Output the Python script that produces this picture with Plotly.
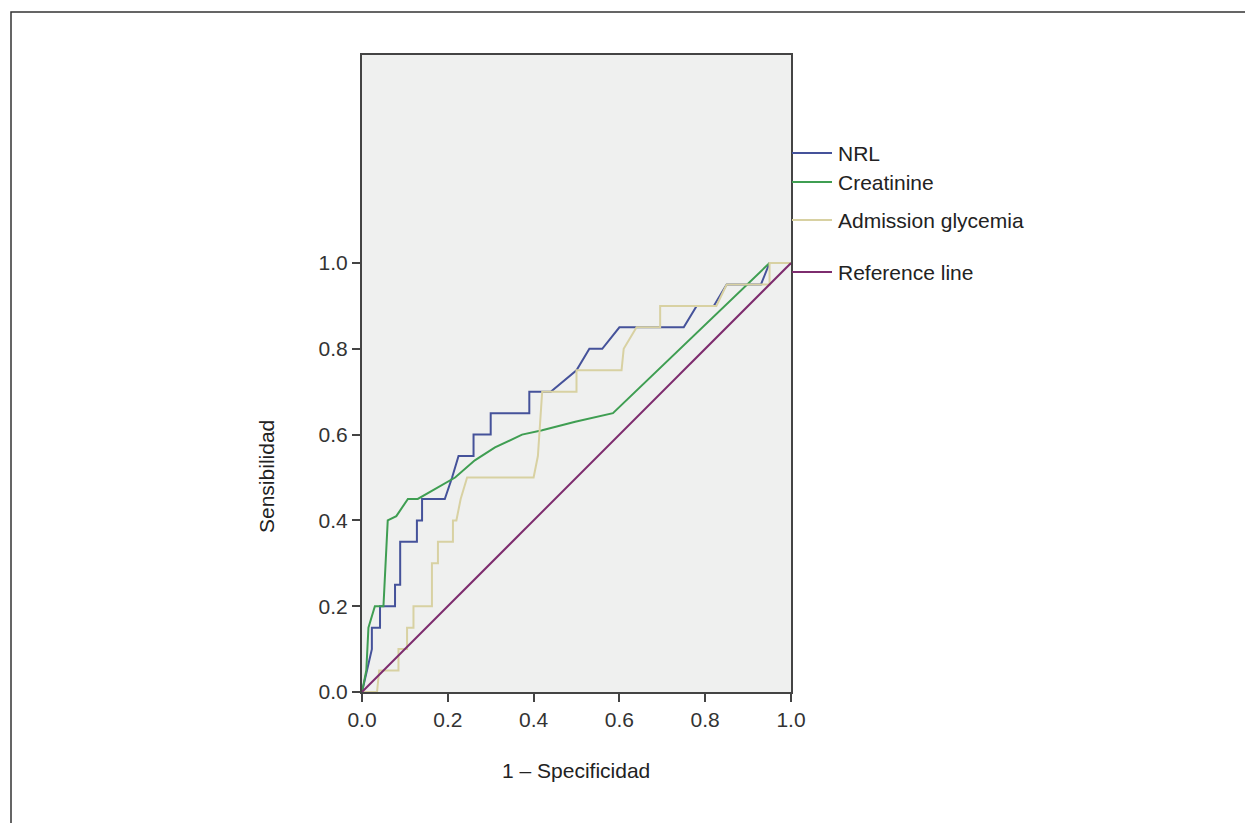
import plotly.graph_objects as go

# ---- data ----
nrl_x = [0.0, 0.012, 0.023, 0.023, 0.042, 0.042, 0.077, 0.077, 0.089, 0.089, 0.128, 0.128, 0.14, 0.14,
         0.193, 0.21, 0.225, 0.26, 0.26, 0.30, 0.30, 0.39, 0.39, 0.44, 0.50, 0.53, 0.56, 0.60, 0.75,
         0.78, 0.82, 0.85, 0.93, 0.95, 1.0]
nrl_y = [0.0, 0.05, 0.10, 0.15, 0.15, 0.20, 0.20, 0.25, 0.25, 0.35, 0.35, 0.40, 0.40, 0.45,
         0.45, 0.50, 0.55, 0.55, 0.60, 0.60, 0.65, 0.65, 0.70, 0.70, 0.75, 0.80, 0.80, 0.85, 0.85,
         0.90, 0.90, 0.95, 0.95, 1.0, 1.0]

crea_x = [0.0, 0.01, 0.015, 0.03, 0.05, 0.055, 0.06, 0.08, 0.107, 0.13, 0.193, 0.217, 0.263, 0.31,
          0.373, 0.42, 0.497, 0.585, 0.95, 1.0]
crea_y = [0.0, 0.05, 0.15, 0.20, 0.20, 0.30, 0.40, 0.41, 0.45, 0.45, 0.487, 0.50, 0.54, 0.57,
          0.60, 0.61, 0.63, 0.65, 1.0, 1.0]

gly_x = [0.0, 0.035, 0.04, 0.085, 0.085, 0.105, 0.105, 0.12, 0.12, 0.163, 0.163, 0.177, 0.177,
         0.212, 0.212, 0.22, 0.23, 0.245, 0.40, 0.41, 0.42, 0.50, 0.50, 0.605, 0.61, 0.64, 0.695,
         0.695, 0.826, 0.85, 0.95, 0.95, 1.0]
gly_y = [0.0, 0.0, 0.05, 0.05, 0.10, 0.10, 0.15, 0.15, 0.20, 0.20, 0.30, 0.30, 0.35,
         0.35, 0.40, 0.40, 0.45, 0.50, 0.50, 0.55, 0.70, 0.70, 0.75, 0.75, 0.80, 0.85, 0.85,
         0.90, 0.90, 0.95, 0.95, 1.0, 1.0]

ref_x = [0.0, 1.0]
ref_y = [0.0, 1.0]

series_names = ["NRL", "Creatinine", "Admission glycemia", "Reference line"]
series_colors = ["#45529a", "#3f9e52", "#d8d1a2", "#7d2c6e"]
tick_vals = [0.0, 0.2, 0.4, 0.6, 0.8, 1.0]
tick_text = ["0.0", "0.2", "0.4", "0.6", "0.8", "1.0"]

# ---- layout geometry (pixels, in page coords; page body has 8px margin) ----
OFF = 8
W, H = 1253, 823
L, R, T, B = 362 - OFF, 791 - OFF, 55 - OFF, 692 - OFF
pw, ph = R - L, B - T

def px(xp):
    return (xp - OFF - L) / pw

def py(yp):
    return (B - (yp - OFF)) / ph

fig = go.Figure()
for xs, ys, name, col in [(nrl_x, nrl_y, series_names[0], series_colors[0]),
                          (crea_x, crea_y, series_names[1], series_colors[1]),
                          (gly_x, gly_y, series_names[2], series_colors[2]),
                          (ref_x, ref_y, series_names[3], series_colors[3])]:
    fig.add_trace(go.Scatter(x=xs, y=ys, mode="lines", name=name,
                             line=dict(color=col, width=2), showlegend=False))

font_fam = "Liberation Sans, Arial, sans-serif"

shapes = []
annotations = []
# outer frame
shapes.append(dict(type="rect", xref="paper", yref="paper",
                   x0=px(11), x1=px(1300), y0=py(900), y1=py(12),
                   line=dict(color="#333333", width=1.5), fillcolor="rgba(0,0,0,0)", layer="below"))

# manual legend
legend_y = [153, 182, 220, 272]
for name, col, yy in zip(series_names, series_colors, legend_y):
    shapes.append(dict(type="line", xref="paper", yref="paper",
                       x0=px(792), x1=px(832), y0=py(yy), y1=py(yy),
                       line=dict(color=col, width=2)))
    annotations.append(dict(xref="paper", yref="paper", x=px(836), y=py(yy),
                            text=name, showarrow=False, xanchor="left", yanchor="middle",
                            font=dict(family=font_fam, size=21, color="#222222")))

# axis titles
annotations.append(dict(xref="paper", yref="paper", x=px(576), y=py(770),
                        text="1 – Specificidad", showarrow=False, xanchor="center", yanchor="middle",
                        font=dict(family=font_fam, size=21, color="#222222")))
annotations.append(dict(xref="paper", yref="paper", x=px(266), y=py(477),
                        text="Sensibilidad", showarrow=False, xanchor="center", yanchor="middle",
                        textangle=-90,
                        font=dict(family=font_fam, size=21, color="#222222")))

fig.update_layout(
    width=W, height=H,
    margin=dict(l=L, r=W - R, t=T, b=H - B, pad=0),
    paper_bgcolor="white",
    plot_bgcolor="#eff0ef",
    shapes=shapes,
    annotations=annotations,
    showlegend=False,
)
fig.update_xaxes(range=[0, 1], tickvals=tick_vals, ticktext=tick_text,
                 showgrid=False, zeroline=False, showline=True, mirror=True,
                 linecolor="#444444", linewidth=2, ticks="outside", ticklen=8,
                 tickwidth=2, tickcolor="#444444",
                 tickfont=dict(family=font_fam, size=21, color="#333333"))
fig.update_yaxes(range=[0, ph / pw], tickvals=tick_vals, ticktext=tick_text,
                 showgrid=False, zeroline=False, showline=True, mirror=True,
                 linecolor="#444444", linewidth=2, ticks="outside", ticklen=8,
                 tickwidth=2, tickcolor="#444444",
                 tickfont=dict(family=font_fam, size=21, color="#333333"))

fig.write_html("out.html")
